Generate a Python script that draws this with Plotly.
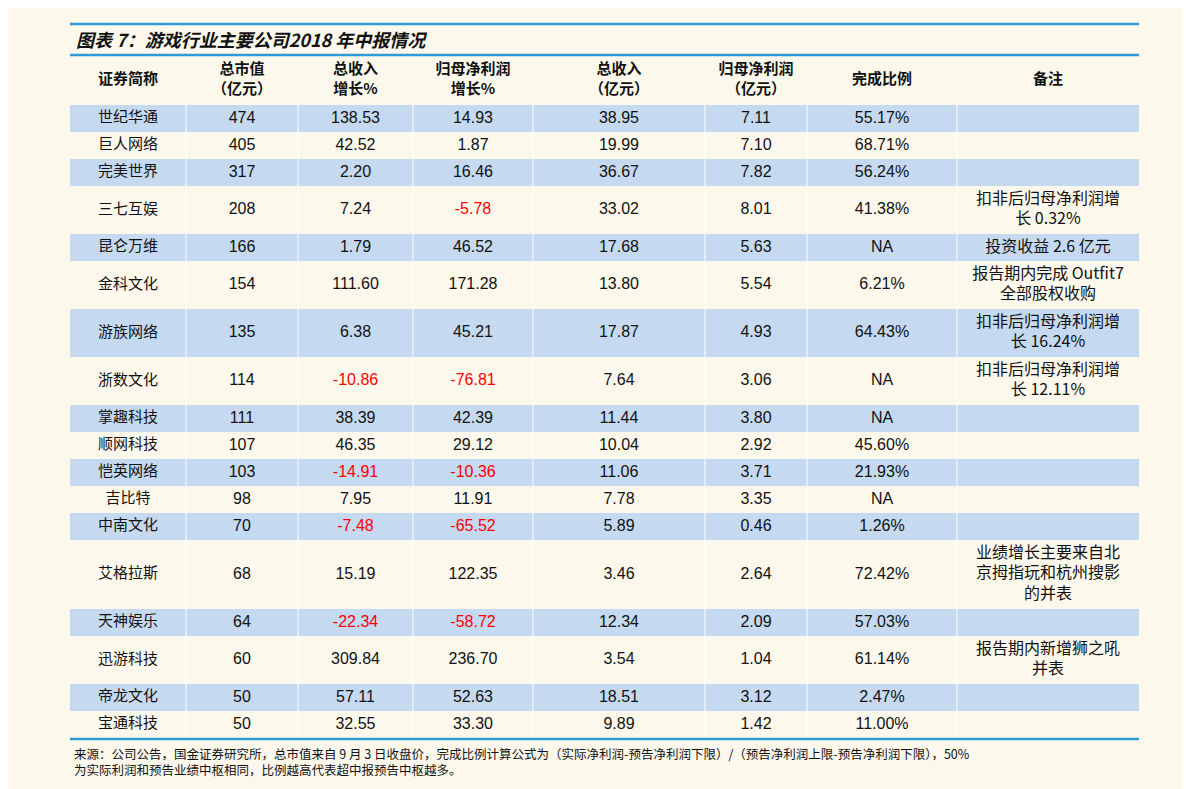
import plotly.graph_objects as go

names = ["世纪华通","巨人网络","完美世界","三七互娱","昆仑万维","金科文化","游族网络","浙数文化","掌趣科技",
         "顺网科技","恺英网络","吉比特","中南文化","艾格拉斯","天神娱乐","迅游科技","帝龙文化","宝通科技"]
mktcap = ["474","405","317","208","166","154","135","114","111","107","103","98","70","68","64","60","50","50"]
rev_growth = ["138.53","42.52","2.20","7.24","1.79","111.60","6.38","-10.86","38.39","46.35","-14.91","7.95","-7.48","15.19","-22.34","309.84","57.11","32.55"]
np_growth = ["14.93","1.87","16.46","-5.78","46.52","171.28","45.21","-76.81","42.39","29.12","-10.36","11.91","-65.52","122.35","-58.72","236.70","52.63","33.30"]
revenue = ["38.95","19.99","36.67","33.02","17.68","13.80","17.87","7.64","11.44","10.04","11.06","7.78","5.89","3.46","12.34","3.54","18.51","9.89"]
net_profit = ["7.11","7.10","7.82","8.01","5.63","5.54","4.93","3.06","3.80","2.92","3.71","3.35","0.46","2.64","2.09","1.04","3.12","1.42"]
completion = ["55.17%","68.71%","56.24%","41.38%","NA","6.21%","64.43%","NA","NA","45.60%","21.93%","NA","1.26%","72.42%","57.03%","61.14%","2.47%","11.00%"]
notes = ["","","","扣非后归母净利润增<br>长 0.32%","投资收益 2.6 亿元","报告期内完成 Outfit7<br>全部股权收购",
         "扣非后归母净利润增<br>长 16.24%","扣非后归母净利润增<br>长 12.11%","","","","","",
         "业绩增长主要来自北<br>京拇指玩和杭州搜影<br>的并表","","报告期内新增狮之吼<br>并表","",""]
headers = ["证券简称","总市值<br>（亿元）","总收入<br>增长%","归母净利润<br>增长%","总收入<br>（亿元）","归母净利润<br>（亿元）","完成比例","备注"]

BG = "#FDF8EC"
BLUE = "#C5D9F1"
LINE = "#2E9BD8"
col_w = [116, 112, 115, 120, 172, 102, 150, 182]
X0, TOP = 62, 97
edges = [X0]
for w in col_w:
    edges.append(edges[-1] + w)
centers = [(edges[i] + edges[i+1]) / 2 for i in range(len(col_w))]

cols = [names, mktcap, rev_growth, np_growth, revenue, net_profit, completion, notes]
n = len(names)
lines = [t.count("<br>") + 1 for t in notes]
heights = [27 + 21 * (k - 1) for k in lines]
ys, tops = [], []
y = TOP
for h in heights:
    tops.append(y); ys.append(y + h / 2); y += h
BOTTOM = y

fig = go.Figure()
for i in range(n):
    if i % 2 == 0:
        fig.add_shape(type="rect", x0=edges[0], x1=edges[-1], y0=tops[i], y1=tops[i] + heights[i],
                      fillcolor=BLUE, line_width=0, layer="below")
for e in edges[1:-1]:
    fig.add_shape(type="line", x0=e, x1=e, y0=TOP, y1=BOTTOM, line=dict(color="white", width=1), layer="below")

for j, c in enumerate(cols):
    fam = "Noto Sans CJK SC" if j in (0, 7) else "Liberation Sans, Noto Sans CJK SC"
    fig.add_trace(go.Scatter(x=[centers[j]] * n, y=ys, text=c, mode="text", textposition="middle center",
                             textfont=dict(family=fam, size=16 if j else 15,
                                           color=["#FF0000" if v.startswith("-") else "#111111" for v in c]),
                             hoverinfo="skip", showlegend=False))
fig.add_trace(go.Scatter(x=centers, y=[72] * len(headers), text=["<b>%s</b>" % h for h in headers], mode="text",
                         textfont=dict(family="Noto Sans CJK SC", size=15, color="#111"),
                         hoverinfo="skip", showlegend=False))

for yy in (16, 47, BOTTOM + 1):
    fig.add_shape(type="line", x0=edges[0], x1=edges[-1], y0=yy, y1=yy, line=dict(color=LINE, width=2.5))
fig.add_annotation(text="<b><i>图表 7：游戏行业主要公司2018 年中报情况</i></b>", x=66, y=31,
                   xanchor="left", yanchor="middle", showarrow=False,
                   font=dict(family="Noto Sans CJK SC", size=18, color="#111"))
fig.add_annotation(text="来源：公司公告，国金证券研究所，总市值来自 9 月 3 日收盘价，完成比例计算公式为（实际净利润-预告净利润下限）/（预告净利润上限-预告净利润下限），50%<br>为实际利润和预告业绩中枢相同，比例越高代表超中报预告中枢越多。",
                   x=64, y=734, xanchor="left", yanchor="top", align="left", showarrow=False,
                   font=dict(family="Noto Sans CJK SC", size=12.5, color="#111"))
fig.update_xaxes(range=[0, 1191], visible=False, fixedrange=True)
fig.update_yaxes(range=[789, 0], visible=False, fixedrange=True)
fig.update_layout(width=1191, height=789, margin=dict(l=0, r=0, t=0, b=0),
                  paper_bgcolor=BG, plot_bgcolor=BG)
fig.write_html("out.html")
